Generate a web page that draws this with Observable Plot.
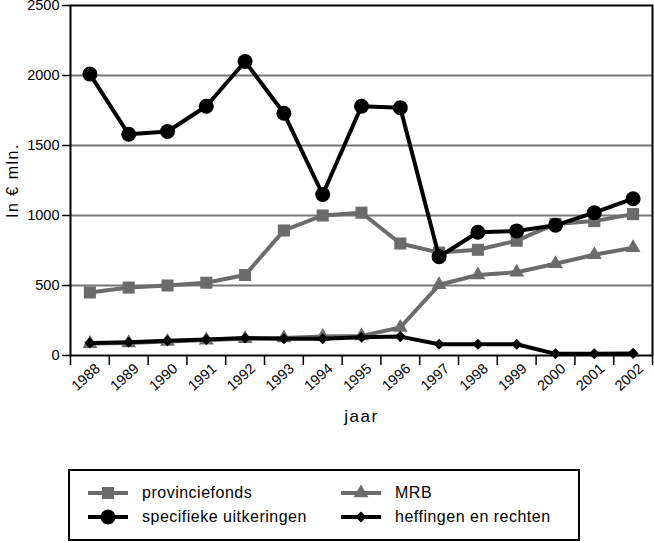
<!DOCTYPE html>
<html><head><meta charset="utf-8">
<script src="https://cdn.jsdelivr.net/npm/d3@7"></script>
<script src="https://cdn.jsdelivr.net/npm/@observablehq/plot@0.6"></script>
<style>
body{margin:0;background:#fff;font-family:"Liberation Sans",Arial,sans-serif;}
#chart{position:absolute;left:0;top:0;}
#chart svg{font-family:"Liberation Sans",Arial,sans-serif;}
#legend{position:absolute;left:68px;top:469px;width:508px;height:68px;border:2px solid #000;font-size:16px;letter-spacing:0.5px;}
.item{position:absolute;display:flex;align-items:center;height:20px;}
.item svg{margin-right:13px;}
#chart g[aria-label="y-axis label"] text{font-size:16px;letter-spacing:1.5px;}
#chart g[aria-label="x-axis label"] text{font-size:17px;letter-spacing:1.5px;}
#chart g[aria-label="y-axis tick label"] text{font-size:14.5px;}
#chart g[aria-label="x-axis tick label"] text{font-size:14.5px;}
</style></head><body>
<div id="chart"></div>
<div id="legend"></div>
<script>
const years = [1988,1989,1990,1991,1992,1993,1994,1995,1996,1997,1998,1999,2000,2001,2002];
const provinciefonds = [450,485,500,520,575,893,1000,1020,800,735,755,820,940,960,1010];
const specifiekeUitkeringen = [2010,1580,1600,1780,2100,1730,1150,1780,1770,705,880,890,930,1020,1120];
const mrb = [85,90,100,110,120,125,135,140,200,505,575,595,655,720,770];
const heffingenEnRechten = [90,95,105,115,125,120,120,130,135,80,80,80,12,12,15];
const yTicks = [0,500,1000,1500,2000,2500];
const gray = "#6b6b6b";

const series = [
  {name:"MRB", values:mrb, color:gray, symbol:"triangle", r:5.5},
  {name:"provinciefonds", values:provinciefonds, color:gray, symbol:"square", r:6.8},
  {name:"heffingen en rechten", values:heffingenEnRechten, color:"#000", symbol:"diamond2", r:5},
  {name:"specifieke uitkeringen", values:specifiekeUitkeringen, color:"#000", symbol:"circle", r:7.5}
];
const rows = s => years.map((y,i)=>({year:y, value:s.values[i]}));

const marks = [
  Plot.ruleY(yTicks.slice(1,-1), {stroke:"#777", strokeWidth:2}),
  Plot.axisY({ticks:yTicks, tickSize:8, tickPadding:3, tickFormat:d3.format("d"), stroke:"#000", strokeWidth:1.5,
    label:"In € mln.", labelAnchor:"center", labelArrow:"none", labelOffset:64}),
  Plot.axisX({ticks:d3.range(1987.5,2003,1), tickSize:10, tickFormat:()=>"", stroke:"#000", strokeWidth:1.5, label:null}),
  Plot.axisX({ticks:years, tickSize:0, tickRotate:-42, tickPadding:11, tickFormat:d=>String(d), dx:8,
    label:"jaar", labelAnchor:"center", labelArrow:"none", labelOffset:66}),
];
for (const s of series) {
  marks.push(Plot.line(rows(s), {x:"year", y:"value", stroke:s.color, strokeWidth:4}));
  marks.push(Plot.dot(rows(s), {x:"year", y:"value", fill:s.color, symbol:s.symbol, r:s.r}));
}
marks.push(Plot.frame({stroke:"#000", strokeWidth:2}));

const chart = Plot.plot({
  width:654, height:460,
  marginTop:5, marginBottom:105, marginLeft:70, marginRight:2,
  style:{fontFamily:"Liberation Sans, Arial, sans-serif", fontSize:"14.5px", color:"#000"},
  x:{domain:[1987.5,2002.5]},
  y:{domain:[0,2500]},
  marks
});
document.getElementById("chart").appendChild(chart);

// legend
const legendItems = [
  {s:series[1], x:17, y:22},
  {s:series[0], x:270, y:22},
  {s:series[3], x:17, y:46},
  {s:series[2], x:270, y:46}
];
const symMap = {circle:d3.symbolCircle, square:d3.symbolSquare, triangle:d3.symbolTriangle, diamond2:d3.symbolDiamond2};
const legend = document.getElementById("legend");
for (const it of legendItems) {
  const div = document.createElement("div");
  div.className = "item";
  div.style.left = it.x + "px";
  div.style.top = (it.y - 10) + "px";
  const size = Math.PI * it.s.r * it.s.r;
  const path = d3.symbol(symMap[it.s.symbol], size)();
  div.innerHTML = `<svg width="42" height="20"><line x1="1" x2="41" y1="10" y2="10" stroke="${it.s.color}" stroke-width="4"/><path transform="translate(21,10)" d="${path}" fill="${it.s.color}"/></svg><span>${it.s.name}</span>`;
  legend.appendChild(div);
}
</script>
</body></html>
